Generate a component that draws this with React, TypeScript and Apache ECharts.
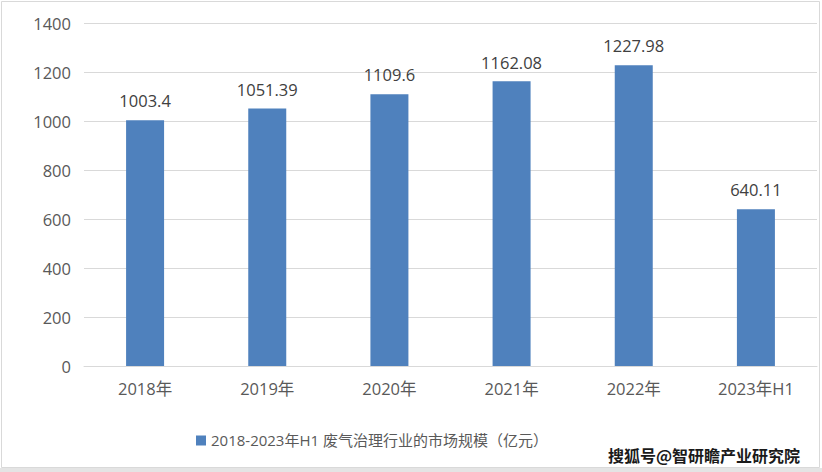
import React, { useEffect, useRef } from "react";
import * as echarts from "echarts";

const categories = ["2018年", "2019年", "2020年", "2021年", "2022年", "2023年H1"];
const values = [1003.4, 1051.39, 1109.6, 1162.08, 1227.98, 640.11];
const valueLabels = ["1003.4", "1051.39", "1109.6", "1162.08", "1227.98", "640.11"];
const seriesName = "2018-2023年H1 废气治理行业的市场规模（亿元）";
const watermark = "搜狐号@智研瞻产业研究院";

export default function App() {
  const ref = useRef<HTMLDivElement>(null);
  useEffect(() => {
    const chart = echarts.init(ref.current!, null, { renderer: "svg" });
    const font = "'Open Sans', 'Noto Sans CJK SC', sans-serif";
    chart.setOption({
      animation: false,
      backgroundColor: "#ffffff",
      grid: { left: 84, right: 5, top: 23, bottom: 106, containLabel: false },
      xAxis: {
        type: "category",
        data: categories,
        axisLine: { lineStyle: { color: "#d9d9d9", width: 1 } },
        axisTick: { show: false },
        axisLabel: { color: "#595959", fontSize: 16.5, fontFamily: font, margin: 14 },
      },
      yAxis: {
        type: "value",
        min: 0,
        max: 1400,
        interval: 200,
        axisLine: { show: false },
        axisTick: { show: false },
        splitLine: { lineStyle: { color: "#d9d9d9", width: 1 } },
        axisLabel: {
          color: "#595959",
          fontSize: 16.5,
          fontFamily: font,
          margin: 13,
          formatter: (v: number) => String(v),
        },
      },
      legend: {
        show: true,
        bottom: 19,
        left: 191,
        itemWidth: 10,
        itemHeight: 10,
        icon: "rect",
        itemGap: 6,
        textStyle: { color: "#595959", fontSize: 15, fontFamily: font },
        data: [seriesName],
      },
      series: [
        {
          name: seriesName,
          type: "bar",
          data: values,
          barWidth: 38,
          itemStyle: { color: "#4f81bd" },
          label: {
            show: true,
            position: "top",
            distance: 11,
            color: "#404040",
            fontSize: 16.5,
            fontFamily: font,
            formatter: (p: any) => valueLabels[p.dataIndex],
          },
        },
      ],
      graphic: [
        {
          type: "rect",
          shape: { x: 1.5, y: 1.5, width: 818, height: 466 },
          style: { fill: "none", stroke: "#d9d9d9", lineWidth: 1 },
          silent: true,
        },
        {
          type: "rect",
          shape: { x: 0, y: 468, width: 822, height: 4 },
          style: { fill: "#e4e4e4" },
          silent: true,
        },
        {
          type: "text",
          right: 21,
          top: 446,
          style: {
            text: watermark,
            fill: "#1a1a1a",
            stroke: "#ffffff",
            lineWidth: 2,
            font: "bold 16px 'Noto Sans CJK SC', sans-serif",
          },
          silent: true,
        },
      ],
    });
    return () => chart.dispose();
  }, []);
  return (
    <div
      ref={ref}
      style={{ position: "absolute", left: 0, top: 0, width: 822, height: 472 }}
    />
  );
}
